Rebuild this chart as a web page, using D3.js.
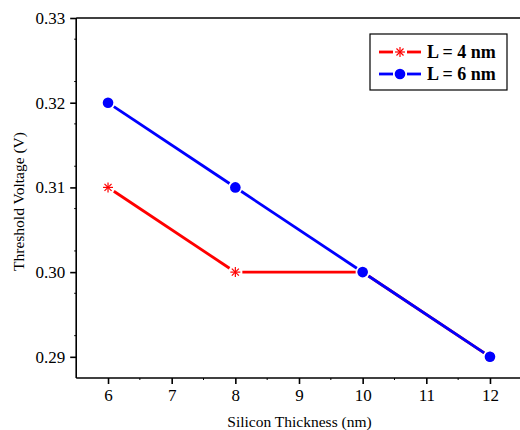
<!DOCTYPE html>
<html>
<head>
<meta charset="utf-8">
<script src="https://cdn.jsdelivr.net/npm/d3@7"></script>
<style>
  html, body { margin: 0; padding: 0; background: #fff; }
  svg { display: block; }
</style>
</head>
<body>
<svg id="chart" width="520" height="430"></svg>
<script>
// Silicon thickness (nm) on the x axis
const thickness = [6, 8, 10, 12];
// Threshold voltage (V) for each channel length
const vthL4 = [0.31, 0.30, 0.30, 0.29];
const vthL6 = [0.32, 0.31, 0.30, 0.29];
const seriesNames = ["L = 4 nm", "L = 6 nm"];
const xTicks = [6, 7, 8, 9, 10, 11, 12];
const yTicks = [0.29, 0.30, 0.31, 0.32, 0.33];

const FONT = "Liberation Serif";
const svg = d3.select("#chart");
const mLeft = 76.2, mRight = 521.8, mTop = 18, mBottom = 378;

const x = d3.scaleLinear().domain([5.5, 12.5]).range([mLeft, mRight]);
const y = d3.scaleLinear().domain([0.2875, 0.33]).range([mBottom, mTop]);

// frame: bottom, left, top
const frame = svg.append("g").attr("stroke", "#000").attr("stroke-width", 1.6).attr("fill", "none");
frame.append("line").attr("x1", mLeft).attr("x2", mRight).attr("y1", mBottom).attr("y2", mBottom);
frame.append("line").attr("x1", mLeft).attr("x2", mLeft).attr("y1", mTop).attr("y2", mBottom);
frame.append("line").attr("x1", mLeft).attr("x2", mRight).attr("y1", mTop).attr("y2", mTop);

// axes
const xAxis = svg.append("g").attr("transform", `translate(0,${mBottom})`)
  .call(d3.axisBottom(x).tickValues(xTicks).tickSize(6).tickPadding(5).tickFormat(d3.format("d")));
const yAxis = svg.append("g").attr("transform", `translate(${mLeft},0)`)
  .call(d3.axisLeft(y).tickValues(yTicks).tickSize(6).tickPadding(5).tickFormat(d3.format(".2f")));
[xAxis, yAxis].forEach(g => {
  g.attr("font-family", FONT).attr("font-size", 17);
  g.select(".domain").remove();
  g.selectAll(".tick line").attr("stroke", "#000").attr("stroke-width", 1.6);
  g.selectAll(".tick text").attr("fill", "#000");
});

// minor ticks
const minorX = [6.5, 7.5, 8.5, 9.5, 10.5, 11.5];
const minorY = [0.2925, 0.2975, 0.3025, 0.3075, 0.3125, 0.3175, 0.3225, 0.3275];
svg.append("g").selectAll("line").data(minorX).join("line")
  .attr("x1", d => x(d)).attr("x2", d => x(d)).attr("y1", mBottom).attr("y2", mBottom + 2)
  .attr("stroke", "#000").attr("stroke-width", 1);
svg.append("g").selectAll("line").data(minorY).join("line")
  .attr("x1", mLeft - 2).attr("x2", mLeft).attr("y1", d => y(d)).attr("y2", d => y(d))
  .attr("stroke", "#000").attr("stroke-width", 1);

// axis titles
svg.append("text").attr("x", 299.5).attr("y", 427)
  .attr("text-anchor", "middle").attr("font-family", FONT).attr("font-size", 15.5)
  .text("Silicon Thickness (nm)");
svg.append("text").attr("transform", "translate(24,201.5) rotate(-90)")
  .attr("text-anchor", "middle").attr("font-family", FONT).attr("font-size", 15.5)
  .text("Threshold Voltage (V)");

// line with small gaps around the symbols
function gappedSegments(xs, ys, gap) {
  const segs = [];
  for (let i = 0; i < xs.length - 1; i++) {
    const x0 = x(xs[i]), y0 = y(ys[i]), x1 = x(xs[i + 1]), y1 = y(ys[i + 1]);
    const len = Math.hypot(x1 - x0, y1 - y0);
    const ux = (x1 - x0) / len, uy = (y1 - y0) / len;
    segs.push([x0 + ux * gap, y0 + uy * gap, x1 - ux * gap, y1 - uy * gap]);
  }
  return segs;
}

function star(g, cx, cy, r, color) {
  const s = g.append("g").attr("stroke", color).attr("stroke-width", 1.2);
  [0, 45, 90, 135].forEach(a => {
    const rad = a * Math.PI / 180;
    s.append("line")
      .attr("x1", cx - r * Math.cos(rad)).attr("y1", cy - r * Math.sin(rad))
      .attr("x2", cx + r * Math.cos(rad)).attr("y2", cy + r * Math.sin(rad));
  });
}

const red = "#ff0000", blue = "#0000ff";
const plot = svg.append("g");

// L = 4 nm
plot.append("g").selectAll("line").data(gappedSegments(thickness, vthL4, 7)).join("line")
  .attr("x1", d => d[0]).attr("y1", d => d[1]).attr("x2", d => d[2]).attr("y2", d => d[3])
  .attr("stroke", red).attr("stroke-width", 2.8);
const starG = plot.append("g");
thickness.forEach((t, i) => star(starG, x(t), y(vthL4[i]), 5, red));

// L = 6 nm
plot.append("g").selectAll("line").data(gappedSegments(thickness, vthL6, 7)).join("line")
  .attr("x1", d => d[0]).attr("y1", d => d[1]).attr("x2", d => d[2]).attr("y2", d => d[3])
  .attr("stroke", blue).attr("stroke-width", 2.8);
plot.append("g").selectAll("circle").data(thickness).join("circle")
  .attr("cx", d => x(d)).attr("cy", (d, i) => y(vthL6[i])).attr("r", 5.3).attr("fill", blue);

// legend
const lg = svg.append("g");
lg.append("rect").attr("x", 370).attr("y", 34).attr("width", 137).attr("height", 56)
  .attr("fill", "#fff").attr("stroke", "#000").attr("stroke-width", 1.2);
const rows = [{ name: seriesNames[0], color: red, sym: "star", cy: 52 },
              { name: seriesNames[1], color: blue, sym: "dot", cy: 74 }];
rows.forEach(r => {
  lg.append("line").attr("x1", 379).attr("x2", 393).attr("y1", r.cy).attr("y2", r.cy)
    .attr("stroke", r.color).attr("stroke-width", 2.8);
  lg.append("line").attr("x1", 407).attr("x2", 421).attr("y1", r.cy).attr("y2", r.cy)
    .attr("stroke", r.color).attr("stroke-width", 2.8);
  if (r.sym === "star") star(lg, 400, r.cy, 5, r.color);
  else lg.append("circle").attr("cx", 400).attr("cy", r.cy).attr("r", 5.3).attr("fill", r.color);
  lg.append("text").attr("x", 427).attr("y", r.cy + 6)
    .attr("font-family", FONT).attr("font-size", 18).attr("font-weight", "bold")
    .text(r.name);
});
</script>
</body>
</html>
